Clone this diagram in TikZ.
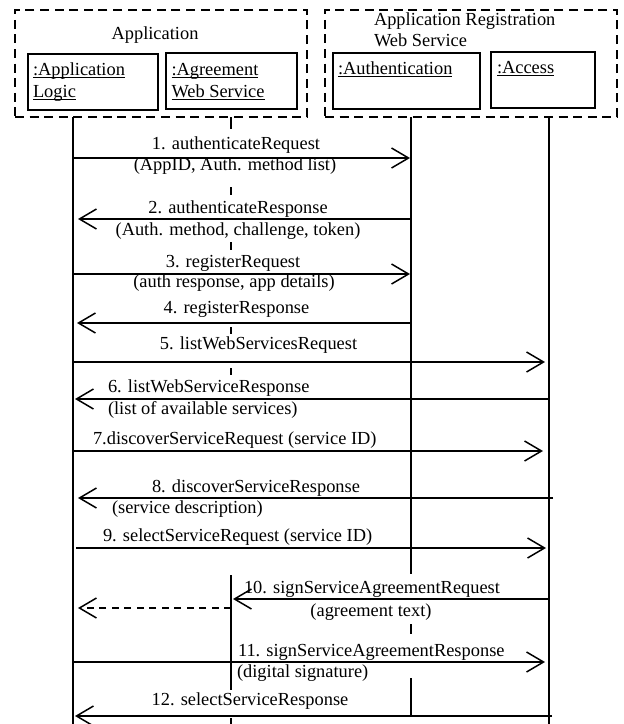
\documentclass[tikz,border=0pt]{standalone}
\usepackage{fontspec}
\setmainfont{Liberation Serif}
\usetikzlibrary{arrows.meta}
\newcommand\uln[1]{\setbox0\hbox{#1}\rlap{\vrule height -1.6pt depth 2.8pt width \wd0}\box0}
\begin{document}
\begin{tikzpicture}[x=1pt,y=-1pt,
  every node/.style={font=\fontsize{18.4}{21}\selectfont, inner sep=0pt, outer sep=0pt},
  group/.style={draw, line width=1.8pt, dash pattern=on 9pt off 5.6pt, rectangle, anchor=north west},
  obj/.style={draw, line width=2pt, rectangle, anchor=north west},
  life/.style={line width=1.5pt},
  msg/.style={line width=1.5pt, -{Straight Barb[length=17pt,width=20pt]}},
  ret/.style={line width=1.5pt, dash pattern=on 7pt off 5.5pt, -{Straight Barb[length=17pt,width=20pt]}},
  lab/.style={anchor=base},
  labl/.style={anchor=base west}]
\useasboundingbox (0,0) rectangle (624,724);
\fill[white] (0,0) rectangle (624,724);
% groups and objects
\node[group, minimum width=292pt, minimum height=107pt] (app) at (15,10) {};
\node[group, minimum width=292pt, minimum height=107pt] (reg) at (325,10) {};
\node[obj, minimum width=130pt, minimum height=56pt] (logic) at (28,54) {};
\node[obj, minimum width=131pt, minimum height=56pt] (agr) at (166,53) {};
\node[obj, minimum width=147pt, minimum height=56pt] (auth) at (333,53) {};
\node[obj, minimum width=104pt, minimum height=56pt] (acc) at (491,52) {};
\node[lab] (appt) at (155,39) {Application};
\node[labl] (regt1) at (374,25) {Application Registration};
\node[labl] (regt2) at (374,46) {Web Service};
\node[labl] (logt1) at (33,75) {\uln{:Application}};
\node[labl] (logt2) at (33,97) {\uln{Logic}};
\node[labl] (agrt1) at (171.5,75) {\uln{:Agreement}};
\node[labl] (agrt2) at (171.5,97) {\uln{Web Service}};
\node[labl] (autt) at (338,74) {\uln{:Authentication}};
\node[labl] (acct) at (497,73) {\uln{:Access}};
% lifeline x positions
\coordinate (lA) at (73,0);
\coordinate (lB) at (231,0);
\coordinate (lC) at (411,0);
\coordinate (lD) at (549,0);
\draw[life] (lA |- app.south) -- (lA |- 0,724);
\draw[life] (lD |- reg.south) -- (lD |- 0,724);
\draw[life] (lC |- reg.south) -- (lC |- 0,574);
\draw[life] (lC |- 0,624) -- (lC |- 0,634);
\draw[life] (lC |- 0,678) -- (lC |- 0,716);
\draw[life] (lB |- app.south) -- (lB |- 0,129);
\draw[life] (lB |- 0,187) -- (lB |- 0,195);
\draw[life] (lB |- 0,242) -- (lB |- 0,250);
\draw[life] (lB |- 0,327) -- (lB |- 0,334);
\draw[life] (lB |- 0,368) -- (lB |- 0,375);
\draw[life] (lB |- 0,575) -- (lB |- 0,690);
\draw[life] (lB |- 0,718) -- (lB |- 0,724);
% messages
\draw[msg, shorten >=1pt] (lA |- 0,158) -- (lC |- 0,158);
\node[lab] (m1a) at (236,149) {1. authenticateRequest};
\node[lab] (m1b) at (235,170) {(AppID, Auth. method list)};
\draw[msg, shorten >=5pt] (lC |- 0,219) -- (lA |- 0,219);
\node[lab] (m2a) at (238,213) {2. authenticateResponse};
\node[lab] (m2b) at (238,235) {(Auth. method, challenge, token)};
\draw[msg, shorten >=1pt] (lA |- 0,274) -- (lC |- 0,274);
\node[lab] (m3a) at (233,267) {3. registerRequest};
\node[lab] (m3b) at (234,287) {(auth response, app details)};
\draw[msg, shorten >=4pt] (lC |- 0,323) -- (lA |- 0,323);
\node[lab] (m4a) at (236.5,313) {4. registerResponse};
\draw[msg, shorten >=4pt] (lA |- 0,362) -- (lD |- 0,362);
\node[lab] (m5a) at (258.5,349) {5. listWebServicesRequest};
\draw[msg, shorten >=2pt] (lD |- 0,399) -- (lA |- 0,399);
\node[labl] (m6a) at (108,392) {6. listWebServiceResponse};
\node[labl] (m6b) at (108,414) {(list of available services)};
\draw[msg, shorten >=6pt] (lA |- 0,451) -- (lD |- 0,451);
\node[labl] (m7a) at (93,444) {7.discoverServiceRequest (service ID)};
\draw[msg, shorten >=5pt] ([xshift=4pt]lD |- 0,498) -- (lA |- 0,498);
\node[lab] (m8a) at (256,492) {8. discoverServiceResponse};
\node[labl] (m8b) at (112,513) {(service description)};
\draw[msg, shorten >=3pt] ([xshift=3pt]lA |- 0,548) -- (lD |- 0,548);
\node[labl] (m9a) at (103,541) {9. selectServiceRequest (service ID)};
\draw[msg, shorten >=2pt] (lD |- 0,599) -- (lB |- 0,599);
\node[labl] (m10a) at (244,593) {10. signServiceAgreementRequest};
\node[lab] (m10b) at (371,616) {(agreement text)};
\draw[ret, shorten >=5pt] (lB |- 0,608) -- (lA |- 0,608);
\draw[msg, shorten >=4pt] (lA |- 0,662) -- (lD |- 0,662);
\node[labl] (m11a) at (238,656) {11. signServiceAgreementResponse};
\node[labl] (m11b) at (237,677) {(digital signature)};
\draw[msg, shorten >=2pt] ([xshift=3pt]lD |- 0,716) -- (lA |- 0,716);
\node[lab] (m12a) at (250,705) {12. selectServiceResponse};
\end{tikzpicture}
\end{document}
